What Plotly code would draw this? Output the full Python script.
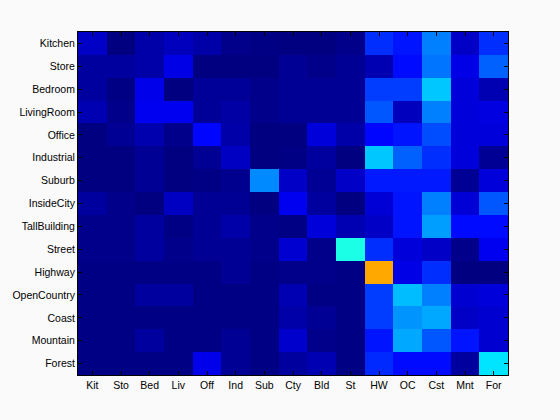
import plotly.graph_objects as go

row_labels = ["Kitchen", "Store", "Bedroom", "LivingRoom", "Office", "Industrial", "Suburb",
              "InsideCity", "TallBuilding", "Street", "Highway", "OpenCountry", "Coast",
              "Mountain", "Forest"]
col_labels = ["Kit", "Sto", "Bed", "Liv", "Off", "Ind", "Sub", "Cty", "Bld", "St",
              "HW", "OC", "Cst", "Mnt", "For"]

kitchen      = [0.07, 0.00, 0.04, 0.06, 0.04, 0.01, 0.005, 0.00, 0.00, 0.01, 0.17, 0.145, 0.25, 0.07, 0.17]
store        = [0.03, 0.03, 0.04, 0.10, 0.00, 0.00, 0.00, 0.02, 0.01, 0.02, 0.05, 0.135, 0.24, 0.10, 0.22]
bedroom      = [0.03, 0.005, 0.105, 0.00, 0.025, 0.025, 0.01, 0.02, 0.02, 0.02, 0.185, 0.185, 0.32, 0.09, 0.05]
livingroom   = [0.05, 0.01, 0.11, 0.11, 0.025, 0.035, 0.01, 0.02, 0.02, 0.02, 0.21, 0.06, 0.25, 0.09, 0.095]
office       = [0.00, 0.02, 0.045, 0.01, 0.13, 0.04, 0.00, 0.00, 0.09, 0.04, 0.13, 0.145, 0.20, 0.09, 0.09]
industrial   = [0.00, 0.00, 0.02, 0.00, 0.02, 0.065, 0.00, 0.005, 0.03, 0.00, 0.32, 0.22, 0.17, 0.09, 0.02]
suburb       = [0.00, 0.00, 0.02, 0.00, 0.005, 0.015, 0.26, 0.07, 0.02, 0.07, 0.15, 0.15, 0.15, 0.02, 0.09]
insidecity   = [0.03, 0.01, 0.00, 0.065, 0.02, 0.02, 0.00, 0.11, 0.03, 0.00, 0.085, 0.145, 0.25, 0.085, 0.21]
tallbuilding = [0.01, 0.01, 0.03, 0.005, 0.02, 0.04, 0.01, 0.005, 0.09, 0.05, 0.07, 0.145, 0.28, 0.135, 0.135]
street       = [0.01, 0.01, 0.03, 0.01, 0.02, 0.02, 0.01, 0.08, 0.01, 0.40, 0.17, 0.09, 0.07, 0.01, 0.11]
highway      = [0.005, 0.005, 0.005, 0.005, 0.005, 0.02, 0.005, 0.01, 0.01, 0.005, 0.71, 0.10, 0.17, 0.00, 0.00]
opencountry  = [0.005, 0.005, 0.03, 0.03, 0.005, 0.005, 0.005, 0.05, 0.005, 0.005, 0.185, 0.31, 0.25, 0.08, 0.09]
coast        = [0.005, 0.005, 0.005, 0.005, 0.005, 0.005, 0.005, 0.04, 0.02, 0.005, 0.185, 0.27, 0.29, 0.07, 0.08]
mountain     = [0.005, 0.005, 0.03, 0.005, 0.005, 0.02, 0.005, 0.075, 0.01, 0.005, 0.145, 0.29, 0.21, 0.145, 0.08]
forest       = [0.005, 0.005, 0.005, 0.005, 0.105, 0.02, 0.005, 0.03, 0.05, 0.005, 0.165, 0.135, 0.135, 0.03, 0.35]

z = [kitchen, store, bedroom, livingroom, office, industrial, suburb, insidecity,
     tallbuilding, street, highway, opencountry, coast, mountain, forest]

jet = [[0.0, "rgb(0,0,128)"], [0.125, "rgb(0,0,255)"], [0.375, "rgb(0,255,255)"],
       [0.625, "rgb(255,255,0)"], [0.875, "rgb(255,0,0)"], [1.0, "rgb(128,0,0)"]]

fig = go.Figure(go.Heatmap(z=z, x=col_labels, y=row_labels, colorscale=jet,
                           zmin=0, zmax=1, showscale=False, xgap=0, ygap=0,
                           hoverinfo="skip"))

font = dict(family="Liberation Sans, Arial, sans-serif", size=10.5, color="black")
fig.update_layout(
    width=560, height=420,
    margin=dict(l=73, r=52, t=32, b=45),
    paper_bgcolor="#fafafa", plot_bgcolor="#fafafa",
    font=font,
    xaxis=dict(showline=True, linecolor="black", linewidth=1, mirror="ticks",
               ticks="inside", ticklen=4, tickcolor="black", showgrid=False,
               zeroline=False, tickfont=font),
    yaxis=dict(showline=True, linecolor="black", linewidth=1, mirror="ticks",
               ticks="inside", ticklen=4, tickcolor="black", showgrid=False,
               zeroline=False, autorange="reversed", tickfont=font),
)
fig.write_html("out.html", config={"displayModeBar": False},
               post_script="document.body.style.margin='0';document.body.style.background='#fafafa';")
